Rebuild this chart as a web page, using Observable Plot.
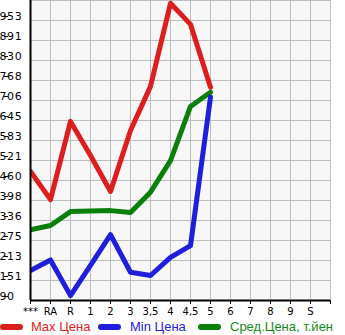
<!DOCTYPE html>
<html><head><meta charset="utf-8">
<script src="https://cdn.jsdelivr.net/npm/d3@7"></script>
<script src="https://cdn.jsdelivr.net/npm/@observablehq/plot@0.6"></script>
<style>
body{margin:0;background:#fff;width:345px;height:335px;overflow:hidden;}
#chart svg{display:block;}
g[aria-label="y-axis tick label"] text{font-size:11px;letter-spacing:0.6px;}
#legend{position:relative;height:17px;font-family:"Liberation Sans",Arial,sans-serif;font-size:13px;white-space:nowrap;overflow:hidden;width:345px;}
.sw{position:absolute;top:6px;height:6px;border-radius:3px;width:23px;}
.lt{position:absolute;top:0;line-height:17px;}
</style></head><body><div id="chart"></div><div id="legend"></div>
<script>
const categories = ["***","RA","R","1","2","3","3,5","4","4,5","5","6","7","8","9","S"];
const maxPrice = [488,401,642,537,426,614,750,1006,941,747];
const minPrice = [182,215,105,198,293,177,167,223,259,717];
const avgPrice = [308,321,364,366,367,361,424,521,688,732];
const yTicks = [90,151.6,213.3,274.9,336.6,398.2,459.9,521.5,583.1,644.8,706.4,768.1,829.7,891.4,953];
const yTickLabels = ["90","151","213","275","336","398","460","521","583","645","706","768","830","891","953"];
const yTop = 1014.6;
const seriesNames = ["Max Цена","Min Цена","Сред.Цена, т.йен"];
const seriesColors = ["#dc1e1e","#1e1edc","#0a800a"];
const textColors = ["#dd2222","#2222dd","#168a16"];

const rows = vals => vals.map((v, i) => ({i, v}));
const xIdx = d3.range(categories.length + 1);

const plot = Plot.plot({
  width: 345, height: 318,
  marginLeft: 30, marginRight: 15, marginTop: 0, marginBottom: 18,
  x: {domain: [0, categories.length], axis: null},
  y: {domain: [90, yTop], axis: null},
  style: {fontFamily: "DejaVu Sans", fontSize: "10px", background: "transparent", overflow: "visible", color: "#000"},
  marks: [
    Plot.frame({fill: "#f7f7f7", stroke: null}),
    Plot.gridX(xIdx, {stroke: "#bdbdbd", strokeOpacity: 1}),
    Plot.gridY([...yTicks, yTop], {stroke: "#bdbdbd", strokeOpacity: 1}),
    Plot.line(rows(avgPrice), {x: "i", y: "v", stroke: seriesColors[2], strokeWidth: 5, clip: true}),
    Plot.line(rows(minPrice), {x: "i", y: "v", stroke: seriesColors[1], strokeWidth: 5, clip: true}),
    Plot.line(rows(maxPrice), {x: "i", y: "v", stroke: seriesColors[0], strokeWidth: 5, clip: true}),
    Plot.axisX(xIdx, {tickSize: 4, tickPadding: 3, label: null, tickFormat: d => categories[d] ?? ""}),
    Plot.axisY(yTicks, {tickSize: 4, label: null, tickFormat: d => yTickLabels[yTicks.indexOf(d)], textAnchor: "start", dx: -22, dy: -4}),
    Plot.ruleX([0], {stroke: "#000", strokeWidth: 2}),
    Plot.ruleY([90], {stroke: "#000", strokeWidth: 2})
  ]
});
document.getElementById("chart").appendChild(plot);

const legend = document.getElementById("legend");
const swLeft = [0, 98, 198];
const txtLeft = [31, 130, 230];
seriesNames.forEach((name, k) => {
  const sw = document.createElement("span");
  sw.className = "sw";
  sw.style.left = swLeft[k] + "px";
  sw.style.background = seriesColors[k];
  legend.appendChild(sw);
  const t = document.createElement("span");
  t.className = "lt";
  t.style.left = txtLeft[k] + "px";
  t.style.color = textColors[k];
  t.textContent = name;
  legend.appendChild(t);
});
</script></body></html>
